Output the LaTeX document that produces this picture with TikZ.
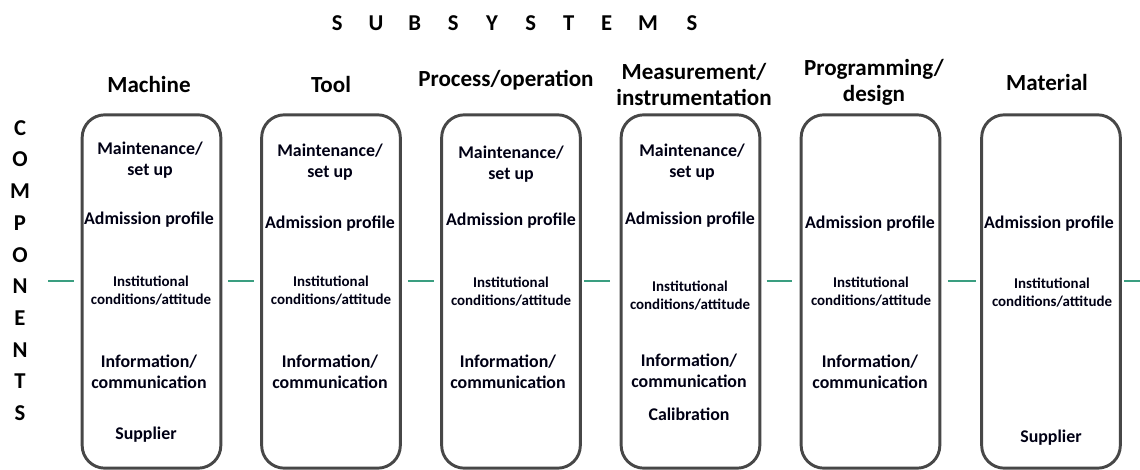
\documentclass[tikz,border=0pt]{standalone}
\usepackage{fontspec}
\setmainfont{Carlito}
\usetikzlibrary{calc}
\definecolor{linkgreen}{RGB}{58,158,128}
\begin{document}
\begin{tikzpicture}[x=0.75pt,y=-0.75pt,
  column/.style={draw=black!72,line width=2.2pt,rounded corners=17pt,
    minimum width=104pt,minimum height=265pt,inner sep=0pt},
  head/.style={font=\bfseries\fontsize{17.3}{19.5}\selectfont,align=center,inner sep=0pt},
  item/.style={font=\bfseries\fontsize{13.4}{16}\selectfont,align=center,inner sep=0pt,text=black!92!blue},
  small/.style={font=\bfseries\fontsize{11.2}{13.5}\selectfont,align=center,inner sep=0pt,text=black!92!blue},
  link/.style={draw=linkgreen,line width=1.1pt},
  spaced/.style={font=\bfseries\fontsize{17}{18}\selectfont,inner sep=0pt}]
\useasboundingbox (0,0) rectangle (1140,470);

% title across the top
\node[spaced] (title) at (516,23) {%
  \makebox[29pt]{S}\makebox[29pt]{U}\makebox[29pt]{B}\makebox[29pt]{S}\makebox[29pt]{Y}%
  \makebox[29pt]{S}\makebox[28pt]{T}\makebox[29pt]{E}\makebox[33pt]{M}\makebox[33pt]{S}};

% vertical label on the left
\node[font=\bfseries\fontsize{17}{23.8}\selectfont,align=center,inner sep=0pt,anchor=north]
  (comp) at (20,120) {C\\O\\M\\P\\O\\N\\E\\N\\T\\S};

% the six subsystem columns
\node[column] (b1) at (151.5,291.5) {};
\node[column] (b2) at (331,291.5) {};
\node[column] (b3) at (511,291.5) {};
\node[column] (b4) at (690.5,291.5) {};
\node[column] (b5) at (870.5,291.5) {};
\node[column] (b6) at (1051,291.5) {};

% column headings
\node[head] (h1) at (149,84) {Machine};
\node[head] (h2) at (331,84) {Tool};
\node[head] (h3) at (506,80) {Process/operation};
\node[head] (h4) at (694,84) {Measurement/\\instrumentation};
\node[head] (h5) at (874,82) {Programming/\\design};
\node[head] (h6) at (1047,82) {Material};

% Machine
\node[item] (m1) at (150,160) {Maintenance/\\set up};
\node[item] (m2) at (149,220) {Admission profile};
\node[small] (m3) at (151,291) {Institutional\\conditions/attitude};
\node[item] (m4) at (149,372) {Information/\\communication};
\node[item] (m5) at (146,435) {Supplier};

% Tool
\node[item] (t1) at (330,162) {Maintenance/\\set up};
\node[item] (t2) at (330,224) {Admission profile};
\node[small] (t3) at (331,291) {Institutional\\conditions/attitude};
\node[item] (t4) at (330,372) {Information/\\communication};

% Process/operation
\node[item] (p1) at (511,164) {Maintenance/\\set up};
\node[item] (p2) at (511,221) {Admission profile};
\node[small] (p3) at (511,292) {Institutional\\conditions/attitude};
\node[item] (p4) at (508,372) {Information/\\communication};

% Measurement/instrumentation
\node[item] (s1) at (692,162) {Maintenance/\\set up};
\node[item] (s2) at (690,220) {Admission profile};
\node[small] (s3) at (690,296) {Institutional\\conditions/attitude};
\node[item] (s4) at (689,371) {Information/\\communication};
\node[item] (s5) at (689,414) {Calibration};

% Programming/design
\node[item] (g1) at (870,224) {Admission profile};
\node[small] (g2) at (871,292) {Institutional\\conditions/attitude};
\node[item] (g3) at (870,372) {Information/\\communication};

% Material
\node[item] (r1) at (1049,224) {Admission profile};
\node[small] (r2) at (1052,293) {Institutional\\conditions/attitude};
\node[item] (r3) at (1051,438) {Supplier};

% connectors between the columns
\coordinate (lin) at (48,281);
\coordinate (rout) at (1140,281);
\draw[link,shorten >=5pt] (lin) -- ($(b1.west)+(0,-10.5)$);
\draw[link,shorten <=4.5pt,shorten >=5pt] ($(b1.east)+(0,-10.5)$) -- ($(b2.west)+(0,-10.5)$);
\draw[link,shorten <=4.5pt,shorten >=5pt] ($(b2.east)+(0,-10.5)$) -- ($(b3.west)+(0,-10.5)$);
\draw[link,shorten <=2pt,shorten >=7pt] ($(b3.east)+(0,-10.5)$) -- ($(b4.west)+(0,-10.5)$);
\draw[link,shorten <=4pt,shorten >=6pt] ($(b4.east)+(0,-10.5)$) -- ($(b5.west)+(0,-10.5)$);
\draw[link,shorten <=5pt,shorten >=3pt] ($(b5.east)+(0,-10.5)$) -- ($(b6.west)+(0,-10.5)$);
\draw[link,shorten <=2pt] ($(b6.east)+(0,-10.5)$) -- (rout);
\end{tikzpicture}
\end{document}
